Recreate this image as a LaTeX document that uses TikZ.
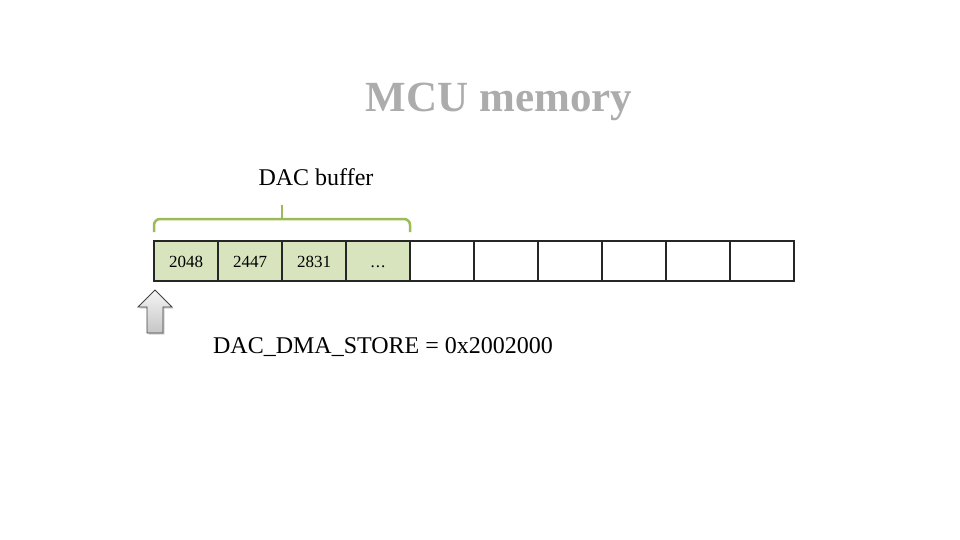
\documentclass[tikz,border=0pt]{standalone}
\usepackage{fontspec}
\setmainfont{Liberation Serif}
\usetikzlibrary{calc, positioning, shadows}
\definecolor{cGreen}{HTML}{9BBB59}
\definecolor{cCell}{HTML}{D7E4BD}
\definecolor{cGrid}{HTML}{262626}

\begin{document}
\begin{tikzpicture}[
    x=1pt, y=-1pt,
    % ---------------------------------------------------------
    % estilos
    % ---------------------------------------------------------
    cell/.style={
        rectangle,
        draw=cGrid,
        fill=#1,
        line width=1.2pt,
        minimum width=64pt,
        minimum height=40pt,
        text height=12pt,
        text depth=0pt,
        inner sep=0pt,
        outer sep=0pt,
        font=\fontsize{17}{20}\selectfont
    },
    brace line/.style={
        draw=cGreen,
        line width=2.5pt,
        rounded corners=6pt
    },
    label text/.style={
        font=\fontsize{24}{28}\selectfont,
        inner sep=2pt
    },
    title text/.style={
        font=\fontsize{43}{48}\selectfont\bfseries,
        text=#1,
        inner sep=0pt
    }
]
\useasboundingbox (0,0) rectangle (960,540);

% ---------------------------------------------------------
% 1. titulo
% ---------------------------------------------------------
\node[title text=gray!65] (title) at (499,102) {MCU memory};

% ---------------------------------------------------------
% 2. celdas de memoria
% ---------------------------------------------------------
\node[cell=cCell] (c1) at (186,261) {2048};
\node[cell=cCell, right=0pt of c1] (c2) {2447};
\node[cell=cCell, right=0pt of c2] (c3) {2831};
\node[cell=cCell, right=0pt of c3] (c4) {.\kern1pt.\kern1pt.};
\foreach \i [count=\j from 4] in {5,...,10}
    \node[cell=white, right=0pt of c\j] (c\i) {};

% ---------------------------------------------------------
% 3. llave del buffer
% ---------------------------------------------------------
\coordinate (bL) at ($(c1.north west)+(0,-9)$);
\coordinate (bR) at ($(c4.north east)+(0,-9)$);
\coordinate (bM) at ($(bL)!0.5!(bR)+(0,-13)$);
\coordinate (bTop) at ($(bM)+(0,-14)$);
\draw[brace line] (bL) |- (bM) -| (bR);
\draw[draw=cGreen, line width=2.5pt] (bM) -- (bTop);

\node[label text] (lblBuffer) at (316,177) {DAC buffer};

% ---------------------------------------------------------
% 4. puntero (flecha)
% ---------------------------------------------------------
\draw[draw=black!75, line width=0.8pt, top color=gray!8, bottom color=gray!45,
      general shadow={shadow xshift=1.5pt, shadow yshift=-1.5pt, fill=gray!35, draw=none}]
    (155,290) -- (172,307) -- (163,307) -- (163,333)
    -- (147,333) -- (147,307) -- (138,307) -- cycle;

\node[label text] (lblStore) at (383,347) {DAC\_DMA\_STORE = 0x2002000};

\end{tikzpicture}
\end{document}
